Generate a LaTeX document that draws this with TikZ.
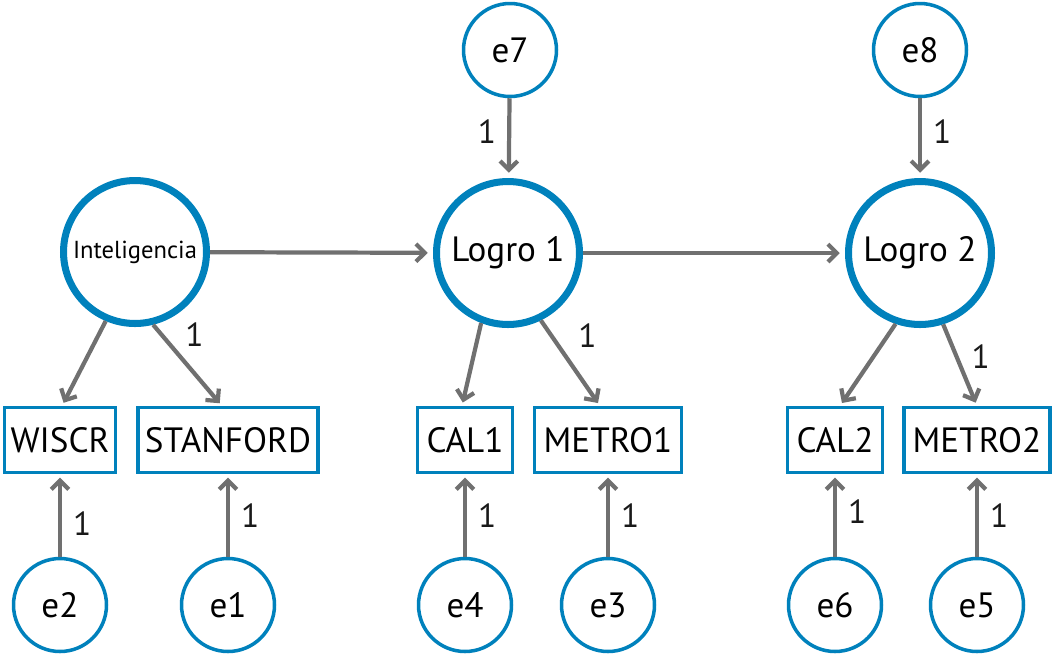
\documentclass[tikz,border=0pt]{standalone}
\usepackage{fontspec}
\setmainfont{PT Sans}
\usetikzlibrary{arrows.meta, positioning}
\definecolor{bleu}{RGB}{0,129,188}
\definecolor{gris}{RGB}{112,112,112}
\begin{document}
\begin{tikzpicture}[x=0.02cm, y=-0.02cm]
\tikzset{latente/.style={draw=bleu, circle, line width=4pt, minimum size=2.86cm, inner sep=0pt, font=\fontsize{20}{22}\selectfont}}
\tikzset{erreur/.style={draw=bleu, circle, line width=2pt, minimum size=1.86cm, inner sep=0pt, font=\fontsize{20}{22}\selectfont}}
\tikzset{observee/.style={draw=bleu, rectangle, line width=1.8pt, minimum height=1.3cm, inner sep=0pt, font=\fontsize{20}{22}\selectfont}}
\tikzset{fleche/.style={draw=gris, line width=2.4pt, -{Straight Barb[length=5pt, width=10pt]}}}
\tikzset{poids/.style={font=\fontsize{19}{21}\selectfont, text=black!90}}
\useasboundingbox (0, 0) rectangle (1055, 654);
\node[latente] (Intel) at (135, 252) {\fontsize{14}{16}\selectfont Inteligencia};
\node[latente] (L1) at (508, 253) {Logro 1};
\node[latente] (L2) at (920, 253) {Logro 2};
\node[erreur] (E7) at (510, 50) {e7};
\node[erreur] (E8) at (920, 50) {e8};
\node[observee, minimum width=2.22cm] (WISCR) at (60, 440) {WISCR};
\node[observee, minimum width=3.6cm] (STAN) at (228, 440) {STANFORD};
\node[observee, minimum width=1.9cm] (CAL1) at (465, 440) {CAL1};
\node[observee, minimum width=2.94cm] (MET1) at (608, 440) {METRO1};
\node[observee, minimum width=1.9cm] (CAL2) at (835, 440) {CAL2};
\node[observee, minimum width=2.92cm] (MET2) at (977, 440) {METRO2};
\node[erreur] (E2) at (60, 605) {e2};
\node[erreur] (E1) at (228, 605) {e1};
\node[erreur] (E4) at (465, 605) {e4};
\node[erreur] (E3) at (608, 605) {e3};
\node[erreur] (E6) at (835, 605) {e6};
\node[erreur] (E5) at (977, 605) {e5};
% structure
\draw[fleche, shorten >=3pt] (Intel) -- (L1);
\draw[fleche, shorten >=3pt] (L1) -- (L2);
\draw[fleche, shorten >=3pt] (E7) -- node[poids, left=3pt, pos=0.42] {1} (L1);
\draw[fleche, shorten >=3pt] (E8) -- node[poids, right=3pt, pos=0.42] {1} (L2);
% mesures
\draw[fleche, shorten >=2pt] (Intel.-113) -- ([xshift=0.04cm]WISCR.north);
\draw[fleche, shorten >=2pt] (Intel.-76) -- node[poids, above right=-3pt and 2pt, pos=0.3] {1} ([xshift=-0.12cm]STAN.north);
\draw[fleche, shorten >=2pt] (L1.-111) -- ([xshift=-0.06cm]CAL1.north);
\draw[fleche, shorten >=2pt] (L1.-64) -- node[poids, above right=-3pt and 5pt, pos=0.35] {1} ([xshift=-0.16cm]MET1.north);
\draw[fleche, shorten >=2pt] (L2.-109) -- ([xshift=0.1cm]CAL2.north);
\draw[fleche, shorten >=2pt] (L2.-72) -- node[poids, right=4pt, pos=0.4] {1} (MET2.north);
% erreurs
\draw[fleche, shorten >=2pt] (E2) -- node[poids, right=3pt, pos=0.4] {1} (WISCR);
\draw[fleche, shorten >=2pt] (E1) -- node[poids, right=3pt, pos=0.5] {1} (STAN);
\draw[fleche, shorten >=2pt] (E4) -- node[poids, right=3pt, pos=0.5] {1} (CAL1);
\draw[fleche, shorten >=2pt] (E3) -- node[poids, right=3pt, pos=0.5] {1} (MET1);
\draw[fleche, shorten >=2pt] (E6) -- node[poids, right=3pt, pos=0.55] {1} (CAL2);
\draw[fleche, shorten >=2pt] (E5) -- node[poids, right=3pt, pos=0.5] {1} (MET2);
\end{tikzpicture}
\end{document}
